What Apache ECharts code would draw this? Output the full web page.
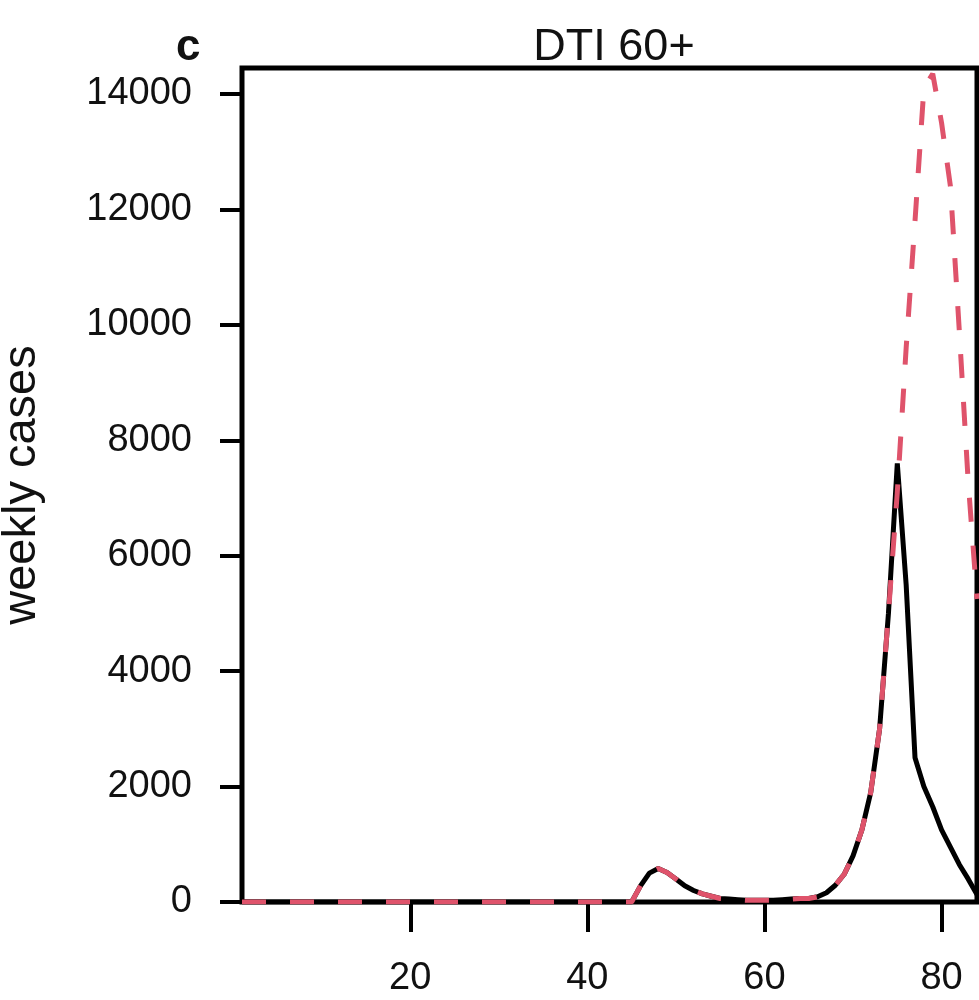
<!DOCTYPE html>
<html style="height: 100%; width: 100%">
  <head>
    <meta charset="utf-8" />
  </head>
  <body style="height: 100%; width: 100%; margin: 0">
    <div id="chart-panel" style="height: 1000px; width: 979px"></div>
    <script
      type="text/javascript"
      src="https://fastly.jsdelivr.net/npm/echarts@6.0.0/dist/echarts.min.js"
    ></script>

    <script type="text/javascript">
      var weeks = [
        1, 2, 3, 4, 5, 6, 7, 8, 9, 10, 11, 12, 13, 14, 15, 16, 17, 18, 19, 20,
        21, 22, 23, 24, 25, 26, 27, 28, 29, 30, 31, 32, 33, 34, 35, 36, 37, 38,
        39, 40, 41, 42, 43, 44, 45, 46, 47, 48, 49, 50, 51, 52, 53, 54, 55, 56,
        57, 58, 59, 60, 61, 62, 63, 64, 65, 66, 67, 68, 69, 70, 71, 72, 73, 74,
        75, 76, 77, 78, 79, 80, 81, 82, 83, 84,
      ];
      // black solid line
      var observed = [
        0, 0, 0, 0, 0, 0, 0, 0, 0, 0, 0, 0, 0, 0, 0, 0, 0, 0, 0, 0,
        0, 0, 0, 0, 0, 0, 0, 0, 0, 0, 0, 0, 0, 0, 0, 0, 0, 0, 0, 0,
        0, 0, 0, 0, 0, 280, 500, 580, 510, 400, 280, 200, 140, 100, 60, 50,
        40, 30, 30, 30, 30, 40, 50, 60, 60, 90, 160, 290, 480, 800, 1250, 1900,
        3000, 5000, 7600, 5500, 2500, 2000, 1650, 1250, 950, 650, 400, 130,
      ];
      // pink dashed line
      var scenario = [
        0, 0, 0, 0, 0, 0, 0, 0, 0, 0, 0, 0, 0, 0, 0, 0, 0, 0, 0, 0,
        0, 0, 0, 0, 0, 0, 0, 0, 0, 0, 0, 0, 0, 0, 0, 0, 0, 0, 0, 0,
        0, 0, 0, 0, 0, 280, 500, 580, 510, 400, 280, 200, 140, 100, 60, 50,
        40, 30, 30, 30, 30, 40, 50, 60, 60, 90, 160, 290, 480, 800, 1250, 1900,
        3000, 5000, 7100, 9600, 11800, 14100, 14350, 13500, 12400, 9900, 7300, 5250,
      ];
      var xTicks = [20, 40, 60, 80];
      var yTicks = [0, 2000, 4000, 6000, 8000, 10000, 12000, 14000];

      function pairs(ys) {
        var out = [];
        for (var i = 0; i < weeks.length; i++) out.push([weeks[i], ys[i]]);
        return out;
      }

      var dom = document.getElementById("chart-panel");
      var myChart = echarts.init(dom);
      var font = "Liberation Sans, Arial, sans-serif";

      var option = {
        animation: false,
        backgroundColor: "#fff",
        title: {
          text: "DTI 60+",
          left: 609,
          textAlign: "center",
          top: 20,
          textStyle: {
            fontFamily: font,
            fontSize: 45,
            fontWeight: "normal",
            color: "#111",
          },
        },
        graphic: [
          {
            type: "text",
            left: 176,
            top: 26,
            style: {
              text: "c",
              fontFamily: font,
              fontSize: 44,
              fontWeight: "bold",
              fill: "#111",
            },
          },
        ],
        grid: {
          left: 242,
          top: 68,
          right: 2,
          bottom: 98,
          outerBoundsMode: "none",
          containLabel: false,
          show: true,
          borderColor: "#000",
          borderWidth: 5,
        },
        xAxis: {
          type: "value",
          min: 1,
          max: 84,
          splitLine: { show: false },
          axisLine: { show: false },
          axisTick: {
            show: true,
            customValues: xTicks,
            length: 30,
            lineStyle: { color: "#000", width: 4 },
          },
          axisLabel: {
            customValues: xTicks,
            margin: 58,
            fontFamily: font,
            fontSize: 38,
            color: "#111",
          },
        },
        yAxis: {
          type: "value",
          min: 0,
          max: 14450,
          name: "weekly cases",
          nameLocation: "middle",
          nameGap: 196,
          nameRotate: 90,
          nameTextStyle: {
            fontFamily: font,
            fontSize: 47,
            color: "#111",
          },
          splitLine: { show: false },
          axisLine: { show: false },
          axisTick: {
            show: true,
            customValues: yTicks,
            length: 22,
            lineStyle: { color: "#000", width: 4 },
          },
          axisLabel: {
            customValues: yTicks,
            margin: 50,
            fontFamily: font,
            fontSize: 38,
            color: "#111",
            formatter: function (v) {
              return String(v);
            },
          },
        },
        series: [
          {
            type: "line",
            data: pairs(observed),
            showSymbol: false,
            clip: true,
            lineStyle: { color: "#000", width: 5 },
            z: 3,
          },
          {
            type: "line",
            data: pairs(scenario),
            showSymbol: false,
            clip: true,
            lineStyle: { color: "#DF536B", width: 5, type: [24, 24] },
            z: 4,
          },
        ],
      };
      myChart.setOption(option);
    </script>
  </body>
</html>
